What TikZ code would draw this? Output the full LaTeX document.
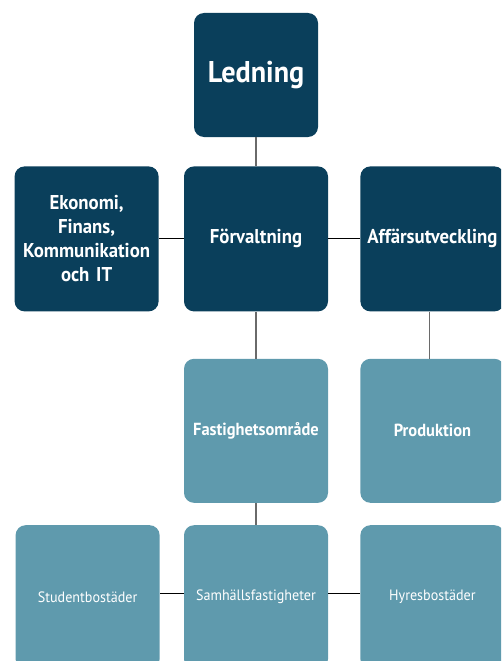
\documentclass[tikz,border=0pt]{standalone}
\usepackage{fontspec}
\setmainfont{PT Sans}[FakeStretch=0.94]
\usetikzlibrary{positioning}

\definecolor{morkbla}{HTML}{0A3F5B}
\definecolor{ljusbla}{HTML}{5F9AAD}
\definecolor{linjegra}{HTML}{6A6A6A}

\tikzset{
  chef/.style={fill=morkbla,rounded corners=10pt,text=white,font=\bfseries\fontsize{20}{24}\selectfont,
    minimum width=144pt,minimum height=145pt,inner sep=0pt,align=center,text width=144pt},
  enhet/.style={fill=ljusbla,rounded corners=10pt,text=white,font=\bfseries\fontsize{17.5}{20}\selectfont,
    minimum width=144pt,minimum height=144pt,inner sep=0pt,align=center,text width=144pt},
  bolag/.style={enhet,font=\fontsize{15}{18}\selectfont},
  vlinje/.style={draw=linjegra,line width=1.2pt},
  hlinje/.style={draw=black,line width=1.1pt}
}

\begin{document}
\begin{tikzpicture}[x=1pt,y=-1pt]
      \clip (0,0) rectangle (501,661);
      \useasboundingbox (0,0) rectangle (501,661);

      \node[chef,minimum width=124pt,minimum height=124pt,text width=124pt,font=\bfseries\fontsize{30}{34}\selectfont] (ledning) at (256,75) {Ledning};
      \node[chef,below=29pt of ledning] (forv) {Förvaltning};
      \node[chef,left=25pt of forv] (ekon) {Ekonomi,\\Finans,\\Kommunikation\\och IT};
      \node[chef,right=32pt of forv] (aff) {Affärsutveckling};

      \node[enhet,below=47pt of forv] (fast) {Fastighetsområde};
      \node[enhet,below=47pt of aff] (prod) {Produktion};

      \node[bolag,below=22pt of fast] (samh) {Samhällsfastigheter};
      \node[bolag,left=24pt of samh] (stud) {Studentbostäder};
      \node[bolag,right=32pt of samh] (hyres) {Hyresbostäder};

      \draw[vlinje] (ledning) -- (forv);
      \draw[hlinje] (ekon) -- (forv);
      \draw[hlinje] (forv) -- (aff);
      \draw[vlinje] (forv) -- (fast);
      \draw[vlinje] ([xshift=-3pt]aff.south) -- ([xshift=-3pt]prod.north);
      \draw[vlinje] (fast) -- (samh);
      \draw[hlinje] ([yshift=4pt]stud.east) -- ([yshift=4pt]samh.west);
      \draw[hlinje] ([yshift=4pt]samh.east) -- ([yshift=4pt]hyres.west);
    \end{tikzpicture}
\end{document}
